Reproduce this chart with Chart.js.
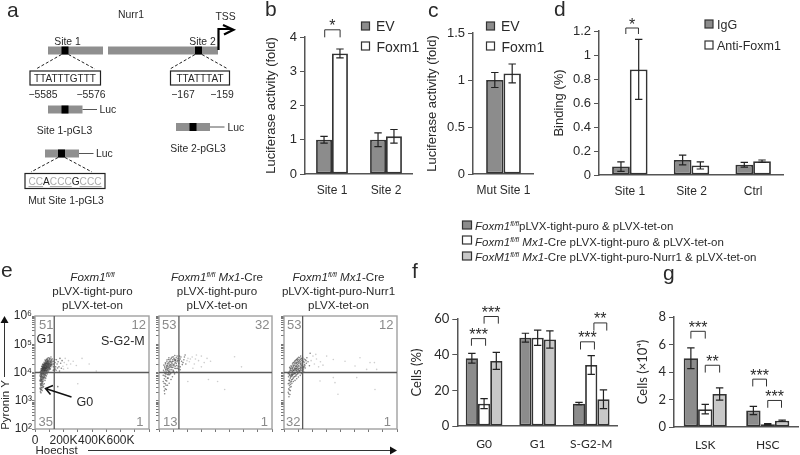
<!DOCTYPE html>
<html>
<head>
<meta charset="utf-8">
<style>
body { margin: 0; background: #fff; }
#page { position: relative; width: 800px; height: 455px; overflow: hidden; }
canvas { position: absolute; }
svg { position: absolute; left: 0; top: 0; pointer-events: none; font-family: "Liberation Sans", Arial, sans-serif; fill: #2a2a2a; }
.gate { fill: #8a8a8a; font-size: 13px; }
.it { font-style: italic; }
.dash { stroke: #222; stroke-width: 1; stroke-dasharray: 3 2; fill: none; }
.frag { fill: #8f8f8f; }
.site { fill: #000; }
.wire { stroke: #555; stroke-width: 1; fill: none; }
.seq { fill: #fff; stroke: #222; stroke-width: 1.2; }
.sw { stroke: #333; stroke-width: 1.2; }
</style>
<script src="https://cdn.jsdelivr.net/npm/chart.js@4"></script>
</head>
<body>
<div id="page">
<canvas id="chartB"></canvas>
<canvas id="chartC"></canvas>
<canvas id="chartD"></canvas>
<canvas id="chartE1"></canvas>
<canvas id="chartE2"></canvas>
<canvas id="chartE3"></canvas>
<canvas id="chartF"></canvas>
<canvas id="chartG"></canvas>

<svg width="800" height="455" viewBox="0 0 800 455">
  <!-- panel letters -->
  <g font-size="21">
    <text x="7" y="17">a</text><text x="265" y="16">b</text><text x="428" y="17">c</text>
    <text x="554" y="16">d</text><text x="1" y="277">e</text><text x="412" y="278">f</text><text x="663" y="280">g</text>
  </g>

  <!-- a: promoter diagram -->
  <g font-size="10.4">
    <text x="131" y="18" text-anchor="middle">Nurr1</text>
    <text x="225.5" y="20" text-anchor="middle">TSS</text>
    <text x="67.5" y="44.5" text-anchor="middle">Site 1</text>
    <text x="202.5" y="44.5" text-anchor="middle">Site 2</text>
  </g>
  <rect class="frag" x="48" y="46.5" width="55" height="8"/>
  <rect class="frag" x="108" y="46.5" width="110" height="8"/>
  <rect class="site" x="61.5" y="46.5" width="7" height="8"/>
  <rect class="site" x="195" y="46.5" width="7" height="8"/>
  <path d="M218.5 50V29H232M223 25L233.5 29.7L224 34.5" fill="none" stroke="#000" stroke-width="2.2"/>
  <path class="dash" d="M61.5 54.5L36 69M68.5 54.5L95 69M195 54.5L170 69M202 54.5L228 69"/>
  <rect class="seq" x="30" y="71" width="70.5" height="14"/>
  <rect class="seq" x="170.5" y="71" width="59" height="14"/>
  <g font-size="10.4">
    <text x="65" y="82" text-anchor="middle" font-size="11.5" textLength="62" lengthAdjust="spacingAndGlyphs">TTATTTGTTT</text>
    <text x="200" y="82" text-anchor="middle" font-size="11.5" textLength="47" lengthAdjust="spacingAndGlyphs">TTATTTAT</text>
    <text x="43" y="98" text-anchor="middle">−5585</text>
    <text x="91" y="98" text-anchor="middle">−5576</text>
    <text x="183" y="98" text-anchor="middle">−167</text>
    <text x="222" y="98" text-anchor="middle">−159</text>
    <text x="64.5" y="134" text-anchor="middle">Site 1-pGL3</text>
    <text x="198" y="152" text-anchor="middle">Site 2-pGL3</text>
    <text x="66" y="204" text-anchor="middle">Mut Site 1-pGL3</text>
    <text x="99.5" y="113">Luc</text>
    <text x="227.5" y="131">Luc</text>
    <text x="96" y="157">Luc</text>
  </g>
  <rect class="frag" x="48" y="105.5" width="34.5" height="8"/><rect class="site" x="61.5" y="105.5" width="7" height="8"/>
  <path class="wire" d="M82.5 109.5H97"/>
  <rect class="frag" x="176" y="123" width="34" height="8"/><rect class="site" x="189.5" y="123" width="7" height="8"/>
  <path class="wire" d="M210 127H224.5"/>
  <rect class="frag" x="45" y="149.5" width="34" height="8"/><rect class="site" x="58" y="149.5" width="7" height="8"/>
  <path class="wire" d="M79 153.5H93.5"/>
  <path class="dash" d="M58 157.5L31 172M65 157.5L92 172"/>
  <rect class="seq" x="25" y="173.5" width="80" height="15"/>
  <text x="65" y="185" font-size="11.5" text-anchor="middle" fill="#aaa" textLength="73" lengthAdjust="spacingAndGlyphs"><tspan text-decoration="underline">CC</tspan><tspan fill="#222">A</tspan><tspan text-decoration="underline">CCC</tspan><tspan fill="#222">G</tspan><tspan text-decoration="underline">CCC</tspan></text>

  <!-- legends b c d -->
  <rect class="sw" x="361.5" y="22" width="8" height="8" fill="#8c8c8c"/>
  <rect class="sw" x="361.5" y="42" width="8" height="8" fill="#fff"/>
  <text x="376" y="31" font-size="14">EV</text><text x="376.5" y="52" font-size="14">Foxm1</text>
  <rect class="sw" x="486.5" y="22" width="8" height="8" fill="#8c8c8c"/>
  <rect class="sw" x="486.5" y="42" width="8" height="8" fill="#fff"/>
  <text x="501" y="31" font-size="14">EV</text><text x="501.5" y="52" font-size="14">Foxm1</text>
  <rect class="sw" x="705" y="20" width="8" height="8" fill="#8c8c8c"/>
  <rect class="sw" x="705" y="41" width="8" height="8" fill="#fff"/>
  <text x="717" y="28.5" font-size="12.5">IgG</text><text x="717" y="49.5" font-size="12.5">Anti-Foxm1</text>

  <!-- e: headers and labels -->
  <g font-size="11.6" text-anchor="middle">
    <text x="92.5" y="281"><tspan class="it">Foxm1</tspan><tspan class="it" font-size="7" dy="-4">fl/fl</tspan></text>
    <text x="92.5" y="294.5">pLVX-tight-puro</text>
    <text x="92.5" y="308.5">pLVX-tet-on</text>
    <text x="217" y="281"><tspan class="it">Foxm1</tspan><tspan class="it" font-size="7" dy="-4">fl/fl</tspan><tspan class="it" dy="4"> Mx1</tspan>-Cre</text>
    <text x="217" y="294.5">pLVX-tight-puro</text>
    <text x="217" y="308.5">pLVX-tet-on</text>
    <text x="338.5" y="281"><tspan class="it">Foxm1</tspan><tspan class="it" font-size="7" dy="-4">fl/fl</tspan><tspan class="it" dy="4"> Mx1</tspan>-Cre</text>
    <text x="338.5" y="294.5">pLVX-tight-puro-Nurr1</text>
    <text x="338.5" y="308.5">pLVX-tet-on</text>
  </g>
  <text class="gate" x="39" y="328.5">51</text><text class="gate" x="146" y="328.5" text-anchor="end">12</text>
  <text class="gate" x="38.5" y="426">35</text><text class="gate" x="143.5" y="426" text-anchor="end">1</text>
  <text class="gate" x="162" y="328.5">53</text><text class="gate" x="269.5" y="328.5" text-anchor="end">32</text>
  <text class="gate" x="163" y="426">13</text><text class="gate" x="268" y="426" text-anchor="end">1</text>
  <text class="gate" x="287" y="328.5">53</text><text class="gate" x="393.5" y="328.5" text-anchor="end">12</text>
  <text class="gate" x="286" y="426">32</text><text class="gate" x="391" y="426" text-anchor="end">1</text>
  <g font-size="12.5">
    <text x="36.5" y="343">G1</text>
    <text x="101" y="344.5">S-G2-M</text>
    <text x="76.5" y="405.5">G0</text>
  </g>
  <path d="M71.5 397L47 389M53 385.5L45.5 388.5L50.5 394.5" fill="none" stroke="#111" stroke-width="1.5"/>
  <text transform="translate(8.5,405) rotate(-90)" font-size="11.5" text-anchor="middle">Pyronin Y</text>
  <path d="M4.5 377V322" stroke="#333" stroke-width="1"/><path d="M0.5 323L4.5 316L8.5 323Z" fill="#111"/>
  <text x="35.5" y="454" font-size="11.5">Hoechst</text>
  <path d="M88 450.5H391" stroke="#333" stroke-width="1"/><path d="M390 446.5L397 450.5L390 454.5Z" fill="#111"/>

  <!-- shared legend f g -->
  <rect class="sw" x="462.5" y="221" width="9" height="8" fill="#8c8c8c"/>
  <rect class="sw" x="462.5" y="236" width="9" height="8" fill="#fff"/>
  <rect class="sw" x="462.5" y="252" width="9" height="8" fill="#c8c8c8"/>
  <g font-size="11.5">
    <text x="475" y="230"><tspan class="it">Foxm1</tspan><tspan class="it" font-size="7" dy="-4">fl/fl</tspan><tspan dy="4">pLVX-tight-puro &amp; pLVX-tet-on</tspan></text>
    <text x="475" y="245.5"><tspan class="it">Foxm1</tspan><tspan class="it" font-size="7" dy="-4">fl/fl</tspan><tspan class="it" dy="4"> Mx1</tspan>-Cre pLVX-tight-puro &amp; pLVX-tet-on</text>
    <text x="475" y="261"><tspan class="it">FoxM1</tspan><tspan class="it" font-size="7" dy="-4">fl/fl</tspan><tspan class="it" dy="4"> Mx1</tspan>-Cre pLVX-tight-puro-Nurr1 &amp; pLVX-tet-on</text>
  </g>
</svg>
</div>

<script>
// b
const bSites = ['Site 1', 'Site 2'];
const bEv = [1, 1];
const bEvErr = [0.1, 0.2];
const bFoxm1 = [3.52, 1.1];
const bFoxm1Err = [0.13, 0.2];

// c
const cSites = ['Mut Site 1'];
const cEv = [1];
const cEvErr = [0.08];
const cFoxm1 = [1.07];
const cFoxm1Err = [0.1];

// d
const dSites = ['Site 1', 'Site 2', 'Ctrl'];
const dIgg = [0.07, 0.125, 0.085];
const dIggErr = [0.04, 0.04, 0.02];
const dAnti = [0.88, 0.08, 0.115];
const dAntiErr = [0.25, 0.03, 0.01];

// f
const fPhases = ['G0', 'G1', 'S-G2-M'];
const fControl = [38, 49.5, 12.5];
const fControlErr = [2.7, 2.5, 0.7];
const fCre = [12.5, 49.5, 34.2];
const fCreErr = [2.8, 4.3, 5.3];
const fNurr1 = [36.5, 48.5, 15];
const fNurr1Err = [4.8, 4.8, 5.3];

// g
const gCells = ['LSK', 'HSC'];
const gControl = [5, 1.2];
const gControlErr = [0.75, 0.3];
const gCre = [1.3, 0.2];
const gCreErr = [0.35, 0.05];
const gNurr1 = [2.4, 0.45];
const gNurr1Err = [0.45, 0.05];

// brackets: category positions, top value, foot value, stars
const bBrackets = [[-0.135, 0.15, 4.21, 3.99, '*']];
const dBrackets = [[-0.065, 0.14, 1.225, 1.175, '*']];
const fBrackets = [
  [-0.236, 0.028, 49, 45, '***'],
  [0, 0.266, 61.4, 57.4, '***'],
  [1.8, 2.06, 47.2, 42.9, '***'],
  [2.05, 2.29, 57.8, 53.5, '**']
];
const gBrackets = [
  [-0.23, 0, 6.96, 6.43, '***'],
  [0, 0.23, 4.49, 3.96, '**'],
  [0.76, 0.98, 3.48, 2.95, '***'],
  [1, 1.22, 1.93, 1.4, '***']
];

// e: [Hoechst in K, log10 Pyronin Y], read from the dot clouds
const e1Cells = [
  [38,3.32],[42,3.28],[45,3.4],[50,3.36],[36,3.45],[55,3.47],[41,3.52],[47,3.55],[60,3.5],[38,3.6],[52,3.62],[44,3.66],[65,3.6],[35,3.72],[58,3.7],
  [48,3.75],[70,3.72],[40,3.8],[62,3.78],[53,3.83],[44,3.86],[75,3.8],[66,3.86],[36,3.9],[57,3.9],[48,3.93],[80,3.88],[70,3.92],[42,3.97],[62,3.97],
  [53,4],[85,3.95],[75,4],[38,4.03],[90,4.0],[66,4.04],[47,4.06],[57,4.08],[80,4.06],[72,4.1],[42,4.12],[95,4.05],[62,4.13],[52,4.15],[86,4.12],
  [100,4.1],[76,4.16],[68,4.18],[58,4.2],[92,4.18],[47,4.22],[108,4.12],[82,4.22],[72,4.24],[64,4.26],[98,4.22],[55,4.3],[88,4.28],[112,4.2],[78,4.31],
  [104,4.28],[68,4.33],[94,4.34],[118,4.26],[84,4.38],[74,4.4],[110,4.35],[100,4.4],[124,4.3],[90,4.44],[116,4.42],[80,4.47],[106,4.48],[96,4.52],[122,4.48],
  [112,4.55],[130,4.4],[128,4.2],[135,4.1],[132,4.3],[140,4.35],[145,4.2],[150,4.45],[155,4.3],[148,4.08],[162,4.38],[168,4.2],[175,4.5],[180,4.33],[172,4.05],
  [190,4.42],[196,4.22],[205,4.35],[212,4.5],[222,4.28],[235,4.42],[250,4.3],[268,4.4],[290,4.25],[330,4.5],[380,4.3],
  [43,3.74],[51,3.79],[59,3.84],[46,3.89],[64,3.91],[55,3.95],[39,3.94],[73,3.95],[60,4.02],[50,4.03],[83,4.01],[69,4.07],[44,4.08],[55,4.12],[77,4.09],
  [88,4.07],[65,4.1],[49,4.12],[97,4.13],[71,4.15],[60,4.16],[81,4.15],[54,4.19],[90,4.2],[66,4.22],[75,4.2],[102,4.18],[85,4.25],[60,4.26],[70,4.29],
  [95,4.27],[108,4.24],[80,4.28],[74,4.34],[90,4.33],[64,4.36],[102,4.34],[85,4.42],[114,4.31],[78,4.36],[96,4.41],[70,4.44],[108,4.41],[88,4.5],[118,4.36],
  [46,3.97],[58,4.05],[67,4.01],[78,4.04],[52,4.08],[63,4.07],[74,4.13],[84,4.18],[57,4.14],[68,4.14],[79,4.23],[93,4.24],[62,4.2],[72,4.28],[83,4.32],
  [40,3.38],[48,3.45],[56,3.57],[43,3.58],[50,3.68],[138,4.46],[158,4.16],[185,4.15],[142,4.12],[128,4.08],[200,4.12],[230,4.15],[430,4.05],[300,3.6],[160,3.5],
  [37,3.42],[44,3.47],[52,3.52],[39,3.56],[46,3.61],[54,3.66],[37,3.69],[42,3.71],[49,3.72],[56,3.76],[39,3.76],[46,3.81],[52,3.86],[60,3.82],[41,3.84],
  [68,3.82],[37,3.86],[44,3.91],[50,3.97],[58,3.95],[66,3.95],[72,3.89],[40,3.99],[48,4.01],[55,4.02],[62,4.0],[71,4.02],[78,3.97],[86,4.02],[43,4.05],
  [51,4.1],[59,4.11],[67,4.08],[75,4.06],[83,4.09],[91,4.11],[46,4.14],[54,4.17],[63,4.17],[70,4.12],[79,4.13],[87,4.16],[96,4.16],[104,4.14],[50,4.2],
  [57,4.24],[65,4.19],[73,4.18],[81,4.19],[90,4.23],[99,4.19],[106,4.22],[53,4.27],[61,4.29],[69,4.25],[77,4.25],[86,4.3],[93,4.29],[101,4.26],[110,4.27],
  [66,4.3],[73,4.31],[81,4.34],[89,4.36],[97,4.32],[105,4.32],[114,4.28],[76,4.42],[84,4.46],[92,4.38],[100,4.45],[109,4.38],[120,4.4],[86,4.4],[103,4.5],[115,4.47]
];
const e2Cells = [
  [40,3.25],[52,3.4],[35,3.5],[60,3.55],[45,3.6],[30,3.68],[72,3.62],[55,3.7],[38,3.78],[85,3.75],[65,3.8],[48,3.85],[30,3.9],[95,3.85],[75,3.92],
  [58,3.93],[40,3.98],[110,3.95],[88,4],[68,4.03],[50,4.05],[32,4.08],[125,4.02],[100,4.08],[78,4.1],[60,4.14],[42,4.16],[138,4.12],[112,4.15],[90,4.18],
  [70,4.2],[52,4.24],[35,4.26],[150,4.2],[125,4.25],[102,4.27],[82,4.28],[62,4.32],[45,4.34],[165,4.28],[140,4.33],[115,4.35],[94,4.38],[74,4.4],[56,4.44],
  [132,4.43],[108,4.46],[86,4.5],[150,4.48],[122,4.52],[100,4.56],[70,4.52],[145,4.58],[160,4.4],[176,4.45],[190,4.3],[205,4.5],[185,4.62],[215,4.38],[235,4.55],
  [250,4.3],[265,4.62],[280,4.42],[300,4.58],[320,4.35],[340,4.5],[365,4.4],[300,4.2],[240,4.15],[204,3.68],[535,4.56],[584,4.2],[415,3.68],[465,3.4],[350,3.75],
  [50,4.12],[64,4.07],[78,4.18],[92,4.26],[108,4.3],[58,4.22],[72,4.3],[86,4.36],[100,4.4],[118,4.42],[46,3.95],[82,3.96],[98,4.02],[66,3.92],[120,4.14],
  [36,3.62],[48,3.72],[60,3.8],[42,3.88],[55,3.98],[70,3.96],[36,4.02],[48,4.1],[62,4.1],[76,4.04],[90,4.1],[104,4.04],[40,4.2],[54,4.18],[68,4.15],
  [84,4.22],[98,4.18],[115,4.22],[130,4.15],[48,4.3],[62,4.26],[76,4.25],[92,4.32],[106,4.24],[122,4.32],[136,4.22],[56,4.38],[70,4.35],[82,4.4],[96,4.45],
  [112,4.42],[128,4.38],[142,4.42],[66,4.46],[78,4.46],[92,4.54],[106,4.5],[118,4.46],[134,4.5],[112,4.6],[128,4.58],[155,4.55],[170,4.35],[180,4.55],[198,4.42],
  [222,4.48],[258,4.48],[150,4.1],[44,3.42],[38,3.35],[50,3.55]
];
const e3Cells = [
  [35,3.14],[42,3.22],[30,3.3],[45,3.36],[34,3.42],[50,3.5],[38,3.55],[30,3.6],[56,3.62],[44,3.66],[66,3.68],[35,3.72],[54,3.74],[78,3.72],[44,3.8],
  [65,3.8],[90,3.78],[32,3.85],[55,3.87],[76,3.86],[102,3.84],[42,3.93],[66,3.93],[88,3.92],[115,3.9],[52,3.98],[76,4],[100,3.98],[128,3.96],[36,4.02],
  [60,4.04],[88,4.06],[112,4.03],[140,4.02],[46,4.08],[72,4.1],[98,4.1],[125,4.08],[56,4.14],[84,4.15],[110,4.14],[138,4.12],[40,4.18],[66,4.2],[94,4.2],
  [122,4.18],[150,4.16],[50,4.24],[78,4.26],[104,4.24],[134,4.23],[60,4.3],[88,4.31],[116,4.28],[146,4.28],[70,4.36],[98,4.36],[128,4.34],[158,4.33],[80,4.42],
  [108,4.42],[138,4.4],[90,4.47],[120,4.48],[150,4.45],[170,4.38],[132,4.54],[104,4.54],[162,4.52],[180,4.24],[192,4.42],[205,4.58],[215,4.3],[230,4.48],[245,4.2],
  [258,4.38],[276,4.26],[185,4.68],[225,4.64],[302,4.58],[349,4.46],[432,4.4],[538,4.52],[609,4.35],[503,4.23],[585,4.11],[656,4.11],[255,3.7],[349,3.82],[361,3.64],
  [515,3.82],[382,3.23],[644,3.4],[640,4.35],
  [48,4],[62,3.97],[80,3.96],[94,4.03],[108,4.07],[54,4.08],[68,4.06],[82,4.11],[92,4.16],[60,4.17],[74,4.16],[86,4.22],[100,4.16],[118,4.12],[70,4.26],
  [96,4.28],[112,4.34],[124,4.26],[58,3.92],[48,3.84],[38,3.9],[74,3.96],[30,3.96],[44,4.12],[130,4.02],[142,4.2],[102,4.32],[84,4.34],[94,4.42],[116,4.4],
  [33,3.25],[38,3.38],[42,3.48],[36,3.62],[47,3.58],[40,3.72],[52,3.68],[60,3.76],[47,3.88],[58,3.9],[70,3.84],[84,3.88],[36,3.97],[54,3.93],[70,3.98],
  [86,4],[96,3.95],[108,4],[122,3.98],[42,4.05],[56,4.02],[66,4.08],[78,4.06],[90,4.09],[104,4.05],[116,4.08],[134,4.06],[46,4.15],[62,4.12],[76,4.13],
  [88,4.14],[102,4.12],[116,4.17],[128,4.14],[52,4.2],[64,4.24],[80,4.2],[90,4.24],[106,4.22],[120,4.22],[138,4.18],[64,4.34],[76,4.33],[90,4.36],[104,4.38],
  [118,4.33],[130,4.3],[148,4.24],[76,4.4],[86,4.45],[100,4.46],[114,4.46],[126,4.42],[142,4.36],[96,4.5],[112,4.52],[126,4.5],[142,4.48],[156,4.42],[118,4.58]
];
const eGates = [[135, 4], [141, 4], [132, 4]];
const eLogMinors = [0.3, 0.48, 0.6, 0.7, 0.78, 0.85, 0.9, 0.95];
const eExponents = { 2: '10²', 3: '10³', 4: '10⁴', 5: '10⁵', 6: '10⁶' };

const dark = '#8c8c8c', light = '#c8c8c8', ink = '#2a2a2a', axisColor = '#555';
const arial = '"Liberation Sans", Arial, sans-serif';

const errorBars = {
  id: 'errorBars',
  afterDatasetsDraw(chart) {
    const ctx = chart.ctx, y = chart.scales.y;
    ctx.save();
    ctx.strokeStyle = '#222';
    ctx.lineWidth = 1.2;
    chart.data.datasets.forEach((ds, i) => {
      chart.getDatasetMeta(i).data.forEach((bar, j) => {
        const hi = y.getPixelForValue(ds.data[j] + ds.errors[j]);
        const lo = y.getPixelForValue(ds.data[j] - ds.errors[j]);
        ctx.beginPath();
        ctx.moveTo(bar.x, hi); ctx.lineTo(bar.x, lo);
        ctx.moveTo(bar.x - 3.7, hi); ctx.lineTo(bar.x + 3.7, hi);
        ctx.moveTo(bar.x - 3.7, lo); ctx.lineTo(bar.x + 3.7, lo);
        ctx.stroke();
      });
    });
    ctx.restore();
  }
};

const brackets = {
  id: 'brackets',
  afterDraw(chart, args, opts) {
    const ctx = chart.ctx, x = chart.scales.x, y = chart.scales.y;
    ctx.save();
    ctx.strokeStyle = '#333';
    ctx.fillStyle = ink;
    ctx.lineWidth = 1;
    ctx.font = '16px ' + arial;
    ctx.textAlign = 'center';
    (opts.list || []).forEach(([a, b, top, foot, stars]) => {
      const x1 = x.getPixelForValue(a), x2 = x.getPixelForValue(b);
      const yTop = y.getPixelForValue(top), yFoot = y.getPixelForValue(foot);
      ctx.beginPath();
      ctx.moveTo(x1, yFoot); ctx.lineTo(x1, yTop); ctx.lineTo(x2, yTop); ctx.lineTo(x2, yFoot);
      ctx.stroke();
      ctx.fillText(stars, (x1 + x2) / 2, yTop + 1.5);
    });
    ctx.restore();
  }
};

const gates = {
  id: 'gates',
  beforeDatasetsDraw(chart) {
    const { ctx, chartArea: a } = chart;
    ctx.save();
    ctx.strokeStyle = '#a0a0a0';
    ctx.lineWidth = 1.4;
    ctx.strokeRect(a.left, a.top, a.right - a.left, a.bottom - a.top);
    ctx.restore();
  },
  afterDatasetsDraw(chart, args, opts) {
    const { ctx, chartArea: a, scales } = chart;
    ctx.save();
    ctx.strokeStyle = '#5a5a5a';
    ctx.lineWidth = 1.3;
    const gx = scales.x.getPixelForValue(opts.at[0]), gy = scales.y.getPixelForValue(opts.at[1]);
    ctx.beginPath();
    ctx.moveTo(gx, a.top); ctx.lineTo(gx, a.bottom);
    ctx.moveTo(a.left, gy); ctx.lineTo(a.right, gy);
    ctx.stroke();
    ctx.restore();
  }
};

function place(canvas, plot, axisLeft, below) {
  const above = 34, right = plot.rightPad || 0;
  canvas.width = plot.r - axisLeft + right;
  canvas.height = above + (plot.b - plot.t) + below;
  canvas.style.left = axisLeft + 'px';
  canvas.style.top = (plot.t - above) + 'px';
  return { top: above, right: right, left: 0, bottom: 0 };
}

function barChart(id, plot, labels, series, yOpts) {
  const canvas = document.getElementById(id);
  const axisLeft = Math.round(plot.titleX - 8);
  const below = 26;
  const padding = place(canvas, plot, axisLeft, below);
  new Chart(canvas, {
    type: 'bar',
    data: {
      labels: labels,
      datasets: series.map(s => ({
        label: s.label, data: s.values, errors: s.errors,
        backgroundColor: s.color, borderColor: '#333', borderWidth: 1.8, borderSkipped: false,
        barPercentage: 1, categoryPercentage: plot.groupShare
      }))
    },
    plugins: [errorBars, brackets],
    options: {
      responsive: false,
      animation: false,
      layout: { padding: padding },
      plugins: {
        legend: { display: false }, tooltip: { enabled: false }, title: { display: false },
        brackets: { list: plot.brackets }
      },
      scales: {
        x: {
          grid: { display: false },
          border: { color: axisColor, width: 1.5 },
          ticks: { color: ink, padding: plot.xPad, maxRotation: 0, autoSkip: false, font: { family: plot.font, size: 12 } },
          afterFit(s) { s.height = below; }
        },
        y: {
          min: 0, max: yOpts.max,
          grid: { drawOnChartArea: false, tickLength: 5, color: axisColor },
          border: { color: axisColor, width: 1.5 },
          ticks: {
            color: ink, stepSize: yOpts.step, padding: 3, font: { family: plot.font, size: 13 },
            callback(v) { return String(+v.toFixed(2)); }
          },
          title: { display: true, text: yOpts.title, color: ink, padding: 0, font: { family: plot.font, size: 13 } },
          afterFit(s) { s.width = plot.l - axisLeft; }
        }
      }
    }
  });
}

function flowChart(id, plot, cells, gateAt, showLabels) {
  const canvas = document.getElementById(id);
  const axisLeft = plot.l - 28;
  const below = 20;
  const padding = place(canvas, plot, axisLeft, below);
  new Chart(canvas, {
    type: 'scatter',
    data: {
      datasets: [{
        data: cells.map(c => ({ x: c[0], y: c[1] })),
        pointRadius: 0.8, pointBorderWidth: 0,
        pointBackgroundColor(c) {
          return c.raw && c.raw.x > 190 ? 'rgba(90,90,90,0.3)' : 'rgba(50,50,50,0.6)';
        }
      }]
    },
    plugins: [gates],
    options: {
      responsive: false,
      animation: false,
      layout: { padding: padding },
      plugins: { legend: { display: false }, tooltip: { enabled: false }, gates: { at: gateAt } },
      scales: {
        x: {
          type: 'linear', min: 0, max: 800,
          grid: { drawOnChartArea: false, tickLength: 3, color: '#777' },
          border: { display: false },
          ticks: {
            stepSize: 100, padding: 1, color: ink, maxRotation: 0, autoSkip: false, font: { family: arial, size: 12 },
            callback(v) {
              if (!showLabels || v > 600 || v % 200) return '';
              return v === 0 ? '0' : v + 'K';
            }
          },
          afterFit(s) { s.height = below; }
        },
        y: {
          type: 'linear', min: 2, max: 6,
          grid: { drawOnChartArea: false, tickLength: 3, color: '#777' },
          border: { display: false },
          afterBuildTicks(s) {
            const list = [];
            for (let d = 2; d <= 6; d++) {
              list.push({ value: d });
              if (d < 6) eLogMinors.forEach(m => list.push({ value: d + m }));
            }
            s.ticks = list;
          },
          ticks: {
            padding: 0, color: ink, autoSkip: false, font: { family: arial, size: 12 },
            callback(v) { return showLabels && eExponents[v] ? eExponents[v] : ''; }
          },
          afterFit(s) { s.width = 28; }
        }
      }
    }
  });
}

barChart('chartB', { l: 305, r: 413, t: 36.7, b: 174, titleX: 271.7, groupShare: 0.59, xPad: 1, font: arial, brackets: bBrackets },
  bSites,
  [{ label: 'EV', values: bEv, errors: bEvErr, color: dark }, { label: 'Foxm1', values: bFoxm1, errors: bFoxm1Err, color: '#fff' }],
  { max: 4, step: 1, title: 'Luciferase activity (fold)' });

barChart('chartC', { l: 473, r: 534, t: 33, b: 174, titleX: 433, groupShare: 0.57, xPad: 1, font: arial, brackets: [] },
  cSites,
  [{ label: 'EV', values: cEv, errors: cEvErr, color: dark }, { label: 'Foxm1', values: cFoxm1, errors: cFoxm1Err, color: '#fff' }],
  { max: 1.5, step: 0.5, title: 'Luciferase activity (fold)' });

barChart('chartD', { l: 599, r: 784, t: 31, b: 175, titleX: 560, groupShare: 0.575, xPad: 1, font: arial, brackets: dBrackets },
  dSites,
  [{ label: 'IgG', values: dIgg, errors: dIggErr, color: dark }, { label: 'Anti-Foxm1', values: dAnti, errors: dAntiErr, color: '#fff' }],
  { max: 1.2, step: 0.2, title: 'Binding (%)' });

flowChart('chartE1', { l: 35, r: 149, t: 315.7, b: 429, rightPad: 12 }, e1Cells, eGates[0], true);
flowChart('chartE2', { l: 159, r: 272.7, t: 315.7, b: 429, rightPad: 4 }, e2Cells, eGates[1], false);
flowChart('chartE3', { l: 284, r: 397, t: 315.7, b: 429, rightPad: 4 }, e3Cells, eGates[2], false);

const cellFont = 'Lato, "Open Sans", sans-serif';
barChart('chartF', { l: 457.3, r: 618.4, t: 319.3, b: 427, titleX: 417, groupShare: 0.685, xPad: 3, font: cellFont, brackets: fBrackets },
  fPhases,
  [{ label: 'control', values: fControl, errors: fControlErr, color: dark },
   { label: 'Cre', values: fCre, errors: fCreErr, color: '#fff' },
   { label: 'Nurr1', values: fNurr1, errors: fNurr1Err, color: light }],
  { max: 60, step: 10, title: 'Cells (%)' });

barChart('chartG', { l: 674, r: 799.6, t: 316.7, b: 427, titleX: 643, groupShare: 0.69, xPad: 3, font: cellFont, brackets: gBrackets },
  gCells,
  [{ label: 'control', values: gControl, errors: gControlErr, color: dark },
   { label: 'Cre', values: gCre, errors: gCreErr, color: '#fff' },
   { label: 'Nurr1', values: gNurr1, errors: gNurr1Err, color: light }],
  { max: 8, step: 2, title: 'Cells (×10⁴)' });
</script>
</body>
</html>
